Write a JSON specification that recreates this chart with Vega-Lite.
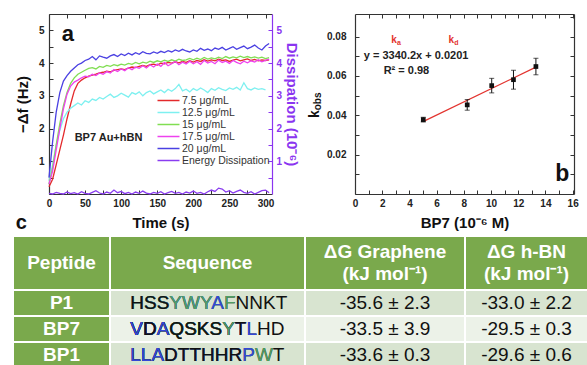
{
  "$schema": "https://vega.github.io/schema/vega-lite/v6.json",
  "background": "white",
  "padding": {"left": 14, "top": 13, "right": 0, "bottom": 0},
  "config": {
    "font": "Liberation Sans",
    "view": {"stroke": null},
    "axis": {
      "domainColor": "#333333", "domainWidth": 1.2, "tickColor": "#333333", "tickWidth": 1, "tickSize": -4,
      "labelFont": "Liberation Sans", "labelFontSize": 10, "labelFontWeight": "bold", "labelColor": "#222222",
      "labelPadding": 8, "labelFlush": false, "labelOverlap": false,
      "titleFont": "Liberation Sans", "titleFontSize": 15, "titleFontWeight": "bold", "titleColor": "#111111", "grid": false
    }
  },
  "datasets": {
    "names": [
      {"s": "r", "name": "7.5 μg/mL"}, {"s": "c", "name": "12.5 μg/mL"}, {"s": "g", "name": "15 μg/mL"},
      {"s": "m", "name": "17.5 μg/mL"}, {"s": "b", "name": "20 μg/mL"}, {"s": "d", "name": "Energy Dissipation"}
    ],
    "qcm": [
      {"t": 0, "r": 0.22, "c": 0.4, "g": 0.3, "m": 0.3, "b": 0.5, "d": 0.02},
      {"t": 5, "r": 0.45, "c": 0.9, "g": 0.8, "m": 0.7, "b": 1.6, "d": 0.0},
      {"t": 10, "r": 0.9, "c": 1.5, "g": 1.5, "m": 1.35, "b": 2.5, "d": 0.05},
      {"t": 15, "r": 1.35, "c": 1.95, "g": 2.15, "m": 2.0, "b": 3.1, "d": 0.02},
      {"t": 20, "r": 1.8, "c": 2.3, "g": 2.7, "m": 2.6, "b": 3.45, "d": 0.0},
      {"t": 25, "r": 2.3, "c": 2.5, "g": 3.1, "m": 3.05, "b": 3.62, "d": 0.06},
      {"t": 30, "r": 2.75, "c": 2.62, "g": 3.38, "m": 3.3, "b": 3.75, "d": 0.01},
      {"t": 35, "r": 3.15, "c": 2.7, "g": 3.55, "m": 3.42, "b": 3.85, "d": 0.04},
      {"t": 40, "r": 3.38, "c": 2.78, "g": 3.66, "m": 3.48, "b": 3.95, "d": 0.0},
      {"t": 45, "r": 3.48, "c": 2.72, "g": 3.72, "m": 3.55, "b": 4.0, "d": 0.07},
      {"t": 50, "r": 3.55, "c": 2.85, "g": 3.78, "m": 3.6, "b": 4.08, "d": 0.02},
      {"t": 55, "r": 3.6, "c": 2.8, "g": 3.84, "m": 3.58, "b": 4.12, "d": 0.0},
      {"t": 60, "r": 3.63, "c": 2.9, "g": 3.86, "m": 3.66, "b": 4.2, "d": 0.05},
      {"t": 65, "r": 3.66, "c": 2.86, "g": 3.82, "m": 3.62, "b": 4.1, "d": 0.1},
      {"t": 70, "r": 3.7, "c": 2.95, "g": 3.9, "m": 3.7, "b": 4.22, "d": 0.03},
      {"t": 75, "r": 3.72, "c": 2.9, "g": 3.87, "m": 3.66, "b": 4.18, "d": 0.0},
      {"t": 80, "r": 3.75, "c": 2.98, "g": 3.93, "m": 3.74, "b": 4.15, "d": 0.06},
      {"t": 85, "r": 3.73, "c": 3.05, "g": 3.9, "m": 3.7, "b": 4.22, "d": 0.02},
      {"t": 90, "r": 3.78, "c": 2.95, "g": 3.95, "m": 3.8, "b": 4.26, "d": 0.12},
      {"t": 95, "r": 3.8, "c": 3.0, "g": 3.92, "m": 3.74, "b": 4.2, "d": 0.04},
      {"t": 100, "r": 3.82, "c": 3.08, "g": 3.97, "m": 3.82, "b": 4.28, "d": 0.08},
      {"t": 105, "r": 3.8, "c": 3.02, "g": 3.94, "m": 3.77, "b": 4.23, "d": 0.01},
      {"t": 110, "r": 3.85, "c": 2.96, "g": 3.99, "m": 3.86, "b": 4.3, "d": 0.05},
      {"t": 115, "r": 3.88, "c": 3.1, "g": 3.96, "m": 3.8, "b": 4.25, "d": 0.0},
      {"t": 120, "r": 3.86, "c": 3.05, "g": 4.02, "m": 3.88, "b": 4.32, "d": 0.06},
      {"t": 125, "r": 3.9, "c": 3.12, "g": 3.98, "m": 3.84, "b": 4.27, "d": 0.02},
      {"t": 130, "r": 3.93, "c": 3.0, "g": 4.03, "m": 3.92, "b": 4.35, "d": 0.09},
      {"t": 135, "r": 3.9, "c": 3.1, "g": 4.0, "m": 3.85, "b": 4.3, "d": 0.03},
      {"t": 140, "r": 3.95, "c": 3.15, "g": 4.06, "m": 3.95, "b": 4.28, "d": 0.0},
      {"t": 145, "r": 3.97, "c": 3.06, "g": 4.02, "m": 3.88, "b": 4.34, "d": 0.05},
      {"t": 150, "r": 3.94, "c": 3.12, "g": 4.07, "m": 3.97, "b": 4.3, "d": 0.02},
      {"t": 155, "r": 4.0, "c": 3.18, "g": 4.04, "m": 3.9, "b": 4.36, "d": 0.07},
      {"t": 160, "r": 3.98, "c": 3.1, "g": 4.09, "m": 4.02, "b": 4.32, "d": 0.0},
      {"t": 165, "r": 4.02, "c": 3.2, "g": 4.05, "m": 3.92, "b": 4.38, "d": 0.04},
      {"t": 170, "r": 4.0, "c": 3.14, "g": 4.1, "m": 3.98, "b": 4.34, "d": 0.08},
      {"t": 175, "r": 4.04, "c": 3.22, "g": 4.06, "m": 4.05, "b": 4.4, "d": 0.02},
      {"t": 180, "r": 4.01, "c": 3.35, "g": 4.12, "m": 3.95, "b": 4.36, "d": 0.05},
      {"t": 185, "r": 4.05, "c": 3.15, "g": 4.08, "m": 4.03, "b": 4.42, "d": 0.0},
      {"t": 190, "r": 4.02, "c": 3.2, "g": 4.1, "m": 3.97, "b": 4.37, "d": 0.06},
      {"t": 195, "r": 4.07, "c": 3.12, "g": 4.14, "m": 4.06, "b": 4.34, "d": 0.03},
      {"t": 200, "r": 4.03, "c": 3.22, "g": 4.1, "m": 3.98, "b": 4.4, "d": 0.09},
      {"t": 205, "r": 4.08, "c": 3.16, "g": 4.15, "m": 4.04, "b": 4.36, "d": 0.02},
      {"t": 210, "r": 4.05, "c": 3.24, "g": 4.11, "m": 3.96, "b": 4.45, "d": 0.05},
      {"t": 215, "r": 4.1, "c": 3.18, "g": 4.17, "m": 4.08, "b": 4.39, "d": 0.0},
      {"t": 220, "r": 4.06, "c": 3.1, "g": 4.12, "m": 4.0, "b": 4.43, "d": 0.07},
      {"t": 225, "r": 4.1, "c": 3.22, "g": 4.16, "m": 4.05, "b": 4.38, "d": 0.12},
      {"t": 230, "r": 4.07, "c": 3.17, "g": 4.13, "m": 3.98, "b": 4.46, "d": 0.08},
      {"t": 235, "r": 4.12, "c": 3.25, "g": 4.18, "m": 4.09, "b": 4.42, "d": 0.18},
      {"t": 240, "r": 4.08, "c": 3.2, "g": 4.14, "m": 4.02, "b": 4.48, "d": 0.15},
      {"t": 245, "r": 4.1, "c": 3.16, "g": 4.2, "m": 4.06, "b": 4.4, "d": 0.06},
      {"t": 250, "r": 4.05, "c": 3.24, "g": 4.15, "m": 3.99, "b": 4.45, "d": 0.1},
      {"t": 255, "r": 4.09, "c": 3.2, "g": 4.19, "m": 4.08, "b": 4.5, "d": 0.03},
      {"t": 260, "r": 4.12, "c": 3.26, "g": 4.16, "m": 4.02, "b": 4.42, "d": 0.08},
      {"t": 265, "r": 4.07, "c": 3.18, "g": 4.21, "m": 3.98, "b": 4.47, "d": 0.12},
      {"t": 270, "r": 4.1, "c": 3.4, "g": 4.17, "m": 4.06, "b": 4.52, "d": 0.05},
      {"t": 275, "r": 4.13, "c": 3.22, "g": 4.2, "m": 4.01, "b": 4.44, "d": 0.02},
      {"t": 280, "r": 4.08, "c": 3.18, "g": 4.16, "m": 4.07, "b": 4.49, "d": 0.07},
      {"t": 285, "r": 4.11, "c": 3.24, "g": 4.19, "m": 4.03, "b": 4.55, "d": 0.0},
      {"t": 290, "r": 4.07, "c": 3.2, "g": 4.15, "m": 4.1, "b": 4.46, "d": 0.05},
      {"t": 295, "r": 4.1, "c": 3.22, "g": 4.18, "m": 4.04, "b": 4.4, "d": 0.1},
      {"t": 300, "r": 4.08, "c": 3.18, "g": 4.14, "m": 4.08, "b": 4.52, "d": 0.12},
      {"t": 305, "r": 4.1, "c": null, "g": 4.17, "m": 4.12, "b": 4.6, "d": 0.04}
    ],
    "kobs": [
      {"x": 5.02, "y": 0.0378, "lo": 0.0366, "hi": 0.039},
      {"x": 8.25, "y": 0.0453, "lo": 0.0426, "hi": 0.048},
      {"x": 10.05, "y": 0.0551, "lo": 0.0514, "hi": 0.0588},
      {"x": 11.65, "y": 0.0581, "lo": 0.0533, "hi": 0.0629},
      {"x": 13.3, "y": 0.0648, "lo": 0.0606, "hi": 0.069}
    ],
    "fit": [
      {"x": 5.0, "y": 0.0368},
      {"x": 13.3, "y": 0.0645}
    ],
    "pep": [
      {"pep": "P1", "gr": "-35.6 ± 2.3", "bn": "-33.0 ± 2.2"},
      {"pep": "BP7", "gr": "-33.5 ± 3.9", "bn": "-29.5 ± 0.3"},
      {"pep": "BP1", "gr": "-33.6 ± 0.3", "bn": "-29.6 ± 0.6"}
    ],
    "seq": [
      {"pep": "P1", "txt": "HSSYWYAFNNKT", "cls": "k"},
      {"pep": "P1", "txt": "HSSYWYAF", "cls": "g"},
      {"pep": "P1", "txt": "HSSYWYA", "cls": "b"},
      {"pep": "P1", "txt": "HSSYWY", "cls": "g"},
      {"pep": "P1", "txt": "HSS", "cls": "k"},
      {"pep": "BP7", "txt": "VDAQSKSYTLHD", "cls": "k"},
      {"pep": "BP7", "txt": "VDAQSKSYTL", "cls": "b"},
      {"pep": "BP7", "txt": "VDAQSKSYT", "cls": "k"},
      {"pep": "BP7", "txt": "VDAQSKSY", "cls": "g"},
      {"pep": "BP7", "txt": "VDAQSKS", "cls": "k"},
      {"pep": "BP7", "txt": "VDA", "cls": "b"},
      {"pep": "BP7", "txt": "VD", "cls": "k"},
      {"pep": "BP7", "txt": "V", "cls": "b"},
      {"pep": "BP1", "txt": "LLADTTHHRPWT", "cls": "k"},
      {"pep": "BP1", "txt": "LLADTTHHRPW", "cls": "g"},
      {"pep": "BP1", "txt": "LLADTTHHRP", "cls": "b"},
      {"pep": "BP1", "txt": "LLADTTHHR", "cls": "k"},
      {"pep": "BP1", "txt": "LLA", "cls": "b"}
    ],
    "hdr2": [
      {"h": "ΔG Graphene", "ln": "1"},
      {"h": "(kJ mol⁻¹)", "ln": "2"}
    ],
    "hdr3": [
      {"h": "ΔG h-BN", "ln": "1"},
      {"h": "(kJ mol⁻¹)", "ln": "2"}
    ]
  },
  "spacing": 3,
  "columns": 1,
  "align": "none",
  "resolve": {"scale": {"color": "independent", "fill": "independent"}, "legend": {"color": "independent", "fill": "independent"}},
  "concat": [
    {
      "spacing": 0,
      "resolve": {"scale": {"color": "independent"}, "legend": {"color": "independent"}},
      "hconcat": [
        {
          "width": 1,
          "height": 180,
          "data": {"values": [{}]},
          "mark": {"type": "text", "text": ""}
        },
        {
          "spacing": 9,
          "resolve": {"scale": {"color": "independent"}, "legend": {"color": "independent"}},
          "hconcat": [
            {
              "width": 223,
              "height": 180,
              "layer": [
                {
                  "data": {"name": "qcm"},
                  "transform": [
                    {"fold": ["r", "c", "g", "m", "b", "d"], "as": ["s", "v"]},
                    {"lookup": "s", "from": {"data": {"name": "names"}, "key": "s", "fields": ["name"]}},
                    {"filter": "datum.s !== 'd'"}
                  ],
                  "mark": {"type": "line", "strokeWidth": 1.3},
                  "encoding": {
                    "x": {"field": "t", "type": "quantitative", "scale": {"domain": [0, 309], "nice": false, "zero": false},
                      "axis": {"orient": "bottom", "values": [0, 25, 50, 75, 100, 125, 150, 175, 200, 225, 250, 275, 300],
                        "labelExpr": "datum.value % 50 === 0 ? datum.label : ''", "title": "Time (s)", "titlePadding": 7}},
                    "y": {"field": "v", "type": "quantitative", "scale": {"domain": [0, 5.5], "nice": false, "zero": false},
                      "axis": {"orient": "left", "values": [0.5, 1, 1.5, 2, 2.5, 3, 3.5, 4, 4.5, 5],
                        "labelExpr": "datum.value % 1 === 0 ? format(datum.value, '.0f') : ''", "title": "−Δf (Hz)", "labelPadding": 9, "titlePadding": 8}},
                    "color": {"field": "name", "type": "nominal",
                      "scale": {"domain": ["7.5 μg/mL", "12.5 μg/mL", "15 μg/mL", "17.5 μg/mL", "20 μg/mL", "Energy Dissipation"],
                        "range": ["#e3292b", "#7ef0f0", "#80de52", "#ee42ee", "#4a40e2", "#8a3cf0"]},
                      "legend": {"orient": "none", "legendX": 113, "legendY": 80, "title": null, "symbolType": "M-2,0H2", "symbolSize": 121,
                        "symbolStrokeWidth": 1.5, "labelFontSize": 10.5, "labelColor": "#333333", "labelOffset": 7, "rowPadding": 0, "padding": 0}}
                  }
                },
                {
                  "data": {"name": "qcm"},
                  "transform": [
                    {"fold": ["r", "c", "g", "m", "b", "d"], "as": ["s", "v"]},
                    {"lookup": "s", "from": {"data": {"name": "names"}, "key": "s", "fields": ["name"]}},
                    {"filter": "datum.s === 'd'"}
                  ],
                  "mark": {"type": "line", "strokeWidth": 1.3},
                  "encoding": {
                    "x": {"field": "t", "type": "quantitative",
                      "axis": {"orient": "top", "labels": false, "title": null, "values": [0, 25, 50, 75, 100, 125, 150, 175, 200, 225, 250, 275, 300]}},
                    "y": {"field": "v", "type": "quantitative",
                      "axis": {"orient": "right", "values": [0.5, 1, 1.5, 2, 2.5, 3, 3.5, 4, 4.5, 5],
                        "labelExpr": "datum.value % 1 === 0 ? format(datum.value, '.0f') : ''",
                        "title": "Dissipation (10⁻⁶)", "titlePadding": 2, "domainColor": "#8a35f0", "tickColor": "#8a35f0",
                        "labelColor": "#8a35f0", "titleColor": "#8a35f0"}},
                    "color": {"field": "name", "type": "nominal"}
                  }
                },
                {
                  "data": {"values": [{}]},
                  "mark": {"type": "text", "text": "a", "fontSize": 22, "fontWeight": "bold", "color": "#111111", "align": "center", "baseline": "middle"},
                  "encoding": {"x": {"datum": 26, "type": "quantitative", "axis": null}, "y": {"datum": 4.88, "type": "quantitative", "axis": null}}
                },
                {
                  "data": {"values": [{}]},
                  "mark": {"type": "text", "text": "BP7 Au+hBN", "fontSize": 11, "fontWeight": "bold", "color": "#222222", "align": "center", "baseline": "middle"},
                  "encoding": {"x": {"datum": 82.5, "type": "quantitative", "axis": null}, "y": {"datum": 1.7, "type": "quantitative", "axis": null}}
                },
                {
                  "data": {"values": [{}]},
                  "mark": {"type": "text", "text": "c", "fontSize": 20, "fontWeight": "bold", "color": "#111111", "align": "center", "baseline": "middle"},
                  "encoding": {"x": {"datum": -38.4, "type": "quantitative", "axis": null}, "y": {"datum": -0.89, "type": "quantitative", "axis": null}}
                }
              ],
              "resolve": {"axis": {"x": "independent", "y": "independent"}}
            },
            {
              "width": 219,
              "height": 180,
              "layer": [
                {
                  "data": {"name": "fit"},
                  "mark": {"type": "line", "color": "#e3342f", "strokeWidth": 1.2},
                  "encoding": {
                    "x": {"field": "x", "type": "quantitative", "scale": {"domain": [0, 16.1], "nice": false, "zero": false},
                      "axis": {"orient": "top", "labels": false, "title": null, "values": [1, 2, 3, 4, 5, 6, 7, 8, 9, 10, 11, 12, 13, 14, 15, 16]}},
                    "y": {"field": "y", "type": "quantitative", "scale": {"domain": [0, 0.0915], "nice": false, "zero": false},
                      "axis": {"orient": "right", "labels": false, "title": null, "values": [0.01, 0.02, 0.03, 0.04, 0.05, 0.06, 0.07, 0.08, 0.09]}}
                  }
                },
                {
                  "data": {"name": "kobs"},
                  "mark": {"type": "errorbar", "ticks": {"size": 5}, "color": "#111111", "thickness": 1},
                  "encoding": {
                    "x": {"field": "x", "type": "quantitative",
                      "axis": {"orient": "bottom", "values": [0, 1, 2, 3, 4, 5, 6, 7, 8, 9, 10, 11, 12, 13, 14, 15, 16],
                        "labelExpr": "datum.value % 2 === 0 ? datum.label : ''", "title": "BP7 (10⁻⁶ M)", "titlePadding": 7}},
                    "y": {"field": "lo", "type": "quantitative",
                      "axis": {"orient": "left", "values": [0.01, 0.02, 0.03, 0.04, 0.05, 0.06, 0.07, 0.08], "labelPadding": 13,
                        "labelExpr": "(datum.value === 0.02 || datum.value === 0.04 || datum.value === 0.06 || datum.value === 0.08) ? format(datum.value, '.2f') : ''",
                        "title": null}},
                    "y2": {"field": "hi"}
                  }
                },
                {
                  "data": {"name": "kobs"},
                  "mark": {"type": "point", "shape": "square", "filled": true, "size": 22, "color": "#111111", "opacity": 1},
                  "encoding": {"x": {"field": "x", "type": "quantitative", "axis": null}, "y": {"field": "y", "type": "quantitative", "axis": null}}
                },
                {
                  "data": {"values": [{}]},
                  "mark": {"type": "text", "text": "y = 3340.2x + 0.0201", "fontSize": 11, "fontWeight": "bold", "color": "#222222", "align": "center", "baseline": "middle"},
                  "encoding": {"x": {"datum": 4.49, "type": "quantitative", "axis": null}, "y": {"datum": 0.0704, "type": "quantitative", "axis": null}}
                },
                {
                  "data": {"values": [{}]},
                  "mark": {"type": "text", "text": "R² = 0.98", "fontSize": 11, "fontWeight": "bold", "color": "#222222", "align": "center", "baseline": "middle"},
                  "encoding": {"x": {"datum": 3.78, "type": "quantitative", "axis": null}, "y": {"datum": 0.0627, "type": "quantitative", "axis": null}}
                },
                {
                  "data": {"values": [{}]},
                  "mark": {"type": "text", "text": "b", "fontSize": 23, "fontWeight": "bold", "color": "#111111", "align": "center", "baseline": "middle"},
                  "encoding": {"x": {"datum": 15.23, "type": "quantitative", "axis": null}, "y": {"datum": 0.0103, "type": "quantitative", "axis": null}}
                },
                {
                  "data": {"values": [{"k": 3.08, "sub": "a"}, {"k": 7.29, "sub": "d"}]},
                  "mark": {"type": "text", "text": "k", "fontSize": 10, "fontWeight": "bold", "color": "#e3342f", "align": "right", "baseline": "alphabetic"},
                  "encoding": {"x": {"field": "k", "type": "quantitative", "axis": null}, "y": {"datum": 0.0766, "type": "quantitative", "axis": null}}
                },
                {
                  "data": {"values": [{"k": 3.08, "sub": "a"}, {"k": 7.29, "sub": "d"}]},
                  "mark": {"type": "text", "fontSize": 7, "fontWeight": "bold", "color": "#e3342f", "align": "left", "baseline": "middle"},
                  "encoding": {"x": {"field": "k", "type": "quantitative", "axis": null}, "y": {"datum": 0.0766, "type": "quantitative", "axis": null}, "text": {"field": "sub"}}
                },
                {
                  "data": {"values": [{}]},
                  "mark": {"type": "text", "text": "k", "fontSize": 14, "fontWeight": "bold", "color": "#111111", "align": "right", "baseline": "alphabetic", "angle": 270},
                  "encoding": {"x": {"datum": -2.61, "type": "quantitative", "axis": null}, "y": {"datum": 0.04255, "type": "quantitative", "axis": null}}
                },
                {
                  "data": {"values": [{}]},
                  "mark": {"type": "text", "text": "obs", "fontSize": 10, "fontWeight": "bold", "color": "#111111", "align": "left", "baseline": "alphabetic", "angle": 270},
                  "encoding": {"x": {"datum": -2.53, "type": "quantitative", "axis": null}, "y": {"datum": 0.04255, "type": "quantitative", "axis": null}}
                }
              ],
              "resolve": {"axis": {"x": "independent", "y": "independent"}}
            }
          ]
        }
      ]
    },
    {
      "spacing": 2,
      "resolve": {"scale": {"color": "independent", "fill": "shared"}},
      "hconcat": [
        {
          "spacing": 2,
          "vconcat": [
            {
              "width": 95, "height": 52, "view": {"fill": "#7aa94c", "stroke": null},
              "data": {"values": [{"h": "Peptide"}]},
              "mark": {"type": "text", "color": "white", "fontWeight": "bold", "fontSize": 19, "baseline": "middle"},
              "encoding": {"text": {"field": "h"}}
            },
            {
              "width": 95, "height": 76,
              "data": {"name": "pep"},
              "layer": [
                {
                  "mark": {"type": "rect", "color": "#7aa94c"},
                  "encoding": {"y": {"field": "pep", "type": "nominal", "scale": {"domain": ["P1", "BP7", "BP1"], "paddingInner": 0.077, "paddingOuter": 0}, "axis": null}}
                },
                {
                  "mark": {"type": "text", "color": "white", "fontWeight": "bold", "fontSize": 19, "baseline": "middle"},
                  "encoding": {"y": {"field": "pep", "type": "nominal", "axis": null}, "text": {"field": "pep"}}
                }
              ]
            }
          ]
        },
        {
          "spacing": 2,
          "vconcat": [
            {
              "width": 193, "height": 52, "view": {"fill": "#7aa94c", "stroke": null},
              "data": {"values": [{"h": "Sequence"}]},
              "mark": {"type": "text", "color": "white", "fontWeight": "bold", "fontSize": 19, "baseline": "middle"},
              "encoding": {"text": {"field": "h"}}
            },
            {
              "width": 193, "height": 76,
              "layer": [
                {
                  "data": {"name": "pep"},
                  "mark": {"type": "rect"},
                  "encoding": {
                    "y": {"field": "pep", "type": "nominal", "scale": {"domain": ["P1", "BP7", "BP1"], "paddingInner": 0.077, "paddingOuter": 0}, "axis": null},
                    "fill": {"field": "pep", "type": "nominal", "scale": {"domain": ["P1", "BP7", "BP1"], "range": ["#d8e4d0", "#ecf2e8", "#d8e4d0"]}, "legend": null}
                  }
                },
                {
                  "data": {"name": "seq"},
                  "mark": {"type": "text", "fontSize": 19, "align": "left", "baseline": "middle"},
                  "encoding": {
                    "y": {"field": "pep", "type": "nominal", "axis": null},
                    "x": {"datum": 0.1, "type": "quantitative", "scale": {"domain": [0, 1]}, "axis": null},
                    "text": {"field": "txt"},
                    "color": {"field": "cls", "type": "nominal", "scale": {"domain": ["k", "g", "b"], "range": ["#111111", "#4f9e62", "#3447d6"]}, "legend": null}
                  }
                }
              ]
            }
          ]
        },
        {
          "spacing": 2,
          "vconcat": [
            {
              "width": 158, "height": 52, "view": {"fill": "#7aa94c", "stroke": null},
              "data": {"name": "hdr2"},
              "mark": {"type": "text", "color": "white", "fontWeight": "bold", "fontSize": 19, "baseline": "middle"},
              "encoding": {"y": {"field": "ln", "type": "ordinal", "scale": {"type": "point", "padding": 0.68}, "axis": null}, "text": {"field": "h"}}
            },
            {
              "width": 158, "height": 76,
              "data": {"name": "pep"},
              "layer": [
                {
                  "mark": {"type": "rect"},
                  "encoding": {
                    "y": {"field": "pep", "type": "nominal", "scale": {"domain": ["P1", "BP7", "BP1"], "paddingInner": 0.077, "paddingOuter": 0}, "axis": null},
                    "fill": {"field": "pep", "type": "nominal", "scale": {"domain": ["P1", "BP7", "BP1"], "range": ["#d8e4d0", "#ecf2e8", "#d8e4d0"]}, "legend": null}
                  }
                },
                {
                  "mark": {"type": "text", "color": "#111111", "fontSize": 19, "baseline": "middle"},
                  "encoding": {"y": {"field": "pep", "type": "nominal", "axis": null}, "text": {"field": "gr"}}
                }
              ]
            }
          ]
        },
        {
          "spacing": 2,
          "vconcat": [
            {
              "width": 121, "height": 52, "view": {"fill": "#7aa94c", "stroke": null},
              "data": {"name": "hdr3"},
              "mark": {"type": "text", "color": "white", "fontWeight": "bold", "fontSize": 19, "baseline": "middle"},
              "encoding": {"y": {"field": "ln", "type": "ordinal", "scale": {"type": "point", "padding": 0.68}, "axis": null}, "text": {"field": "h"}}
            },
            {
              "width": 121, "height": 76,
              "data": {"name": "pep"},
              "layer": [
                {
                  "mark": {"type": "rect"},
                  "encoding": {
                    "y": {"field": "pep", "type": "nominal", "scale": {"domain": ["P1", "BP7", "BP1"], "paddingInner": 0.077, "paddingOuter": 0}, "axis": null},
                    "fill": {"field": "pep", "type": "nominal", "scale": {"domain": ["P1", "BP7", "BP1"], "range": ["#d8e4d0", "#ecf2e8", "#d8e4d0"]}, "legend": null}
                  }
                },
                {
                  "mark": {"type": "text", "color": "#111111", "fontSize": 19, "baseline": "middle"},
                  "encoding": {"y": {"field": "pep", "type": "nominal", "axis": null}, "text": {"field": "bn"}}
                }
              ]
            }
          ]
        }
      ]
    }
  ]
}
